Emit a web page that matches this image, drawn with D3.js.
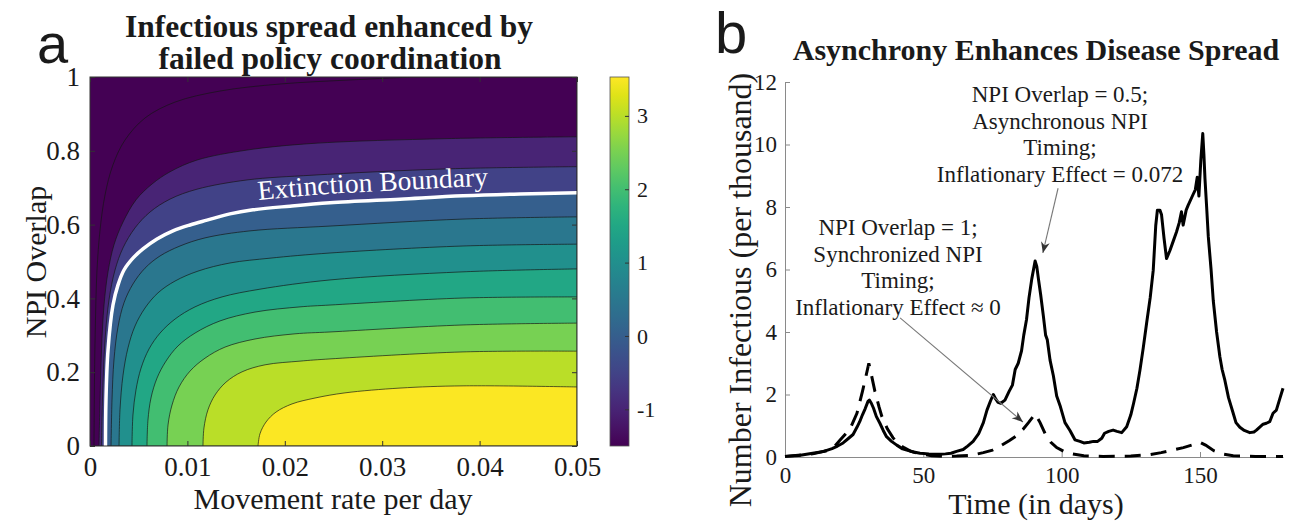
<!DOCTYPE html>
<html>
<head>
<meta charset="utf-8">
<script src="https://cdn.jsdelivr.net/npm/d3@7"></script>
<style>
  body { margin: 0; background: #fff; }
  svg text { font-family: "Liberation Serif", "Times New Roman", serif; fill: #1a1a1a; }
</style>
</head>
<body>
<svg id="chart" width="1289" height="525"></svg>
<script>
// ---- panel a: contour levels and their lines, [movement rate, NPI overlap]
const levels = [-1.5, -1, -0.5, 0, 0.5, 1, 1.5, 2, 2.5, 3, 3.5];
const colorRange = [-1.5, 3.53];
const colorbarTicks = [-1, 0, 1, 2, 3];
const rateTicks = [0, 0.01, 0.02, 0.03, 0.04, 0.05];
const overlapTicks = [0, 0.2, 0.4, 0.6, 0.8, 1];

const lineM15 = [[0.00041,0],[0.00046,0.179],[0.00056,0.341],[0.00072,0.477],[0.00103,0.585],[0.00154,0.68],[0.00236,0.762],[0.00359,0.829],[0.00565,0.889],[0.00873,0.932],[0.01335,0.962],[0.01951,0.981],[0.02669,0.992],[0.03316,1]];
const lineM10 = [[0.00092,0],[0.00103,0.125],[0.00118,0.26],[0.00144,0.382],[0.00185,0.472],[0.00246,0.545],[0.00339,0.607],[0.00472,0.667],[0.00637,0.71],[0.00821,0.743],[0.01099,0.775],[0.01612,0.802],[0.0229,0.82],[0.03665,0.833],[0.05,0.838]];
const lineM05 = [[0.00118,0],[0.00128,0.125],[0.00154,0.287],[0.00195,0.396],[0.00257,0.477],[0.00339,0.537],[0.00462,0.591],[0.00616,0.634],[0.00821,0.669],[0.01099,0.696],[0.01612,0.721],[0.0229,0.734],[0.03665,0.751],[0.05,0.757]];
const line00 = [[0.00159,0],[0.00164,0.125],[0.00185,0.26],[0.00236,0.382],[0.00287,0.436],[0.00349,0.477],[0.00441,0.509],[0.00544,0.534],[0.00688,0.561],[0.00852,0.583],[0.01027,0.599],[0.01201,0.612],[0.01437,0.629],[0.01674,0.64],[0.02053,0.65],[0.02464,0.659],[0.03183,0.669],[0.0383,0.678],[0.04415,0.683],[0.05,0.686]];
const line05 = [[0.00216,0],[0.00226,0.125],[0.00246,0.233],[0.00287,0.322],[0.00349,0.388],[0.00441,0.439],[0.00565,0.482],[0.00719,0.515],[0.00924,0.542],[0.01181,0.564],[0.01643,0.583],[0.02464,0.596],[0.0383,0.615],[0.05,0.621]];
const line10 = [[0.00298,0],[0.00308,0.098],[0.00339,0.192],[0.0039,0.266],[0.00462,0.325],[0.00565,0.374],[0.00698,0.415],[0.00873,0.447],[0.01109,0.474],[0.01437,0.496],[0.01848,0.509],[0.02464,0.523],[0.0383,0.542],[0.05,0.547]];
const line15 = [[0.00431,0],[0.00441,0.084],[0.00472,0.152],[0.00524,0.211],[0.00606,0.263],[0.00719,0.306],[0.00873,0.344],[0.01078,0.377],[0.01355,0.404],[0.01745,0.425],[0.02464,0.45],[0.0383,0.472],[0.05,0.48]];
const line20 = [[0.00585,0],[0.00595,0.07],[0.00626,0.13],[0.00688,0.184],[0.0078,0.23],[0.00903,0.271],[0.01078,0.306],[0.01335,0.339],[0.01694,0.363],[0.02156,0.377],[0.02464,0.382],[0.0383,0.401],[0.05,0.404]];
const line25 = [[0.00791,0],[0.00801,0.057],[0.00842,0.111],[0.00914,0.16],[0.01027,0.203],[0.01181,0.238],[0.01386,0.268],[0.01694,0.29],[0.02105,0.304],[0.02464,0.309],[0.0383,0.328],[0.05,0.333]];
const line30 = [[0.0116,0],[0.0117,0.049],[0.01211,0.098],[0.01283,0.138],[0.01396,0.173],[0.01561,0.201],[0.01797,0.22],[0.02156,0.23],[0.02464,0.236],[0.0383,0.255],[0.05,0.257]];
const line35 = [[0.01725,0],[0.01745,0.033],[0.01807,0.065],[0.0191,0.092],[0.02074,0.114],[0.0231,0.13],[0.02618,0.144],[0.03183,0.157],[0.0383,0.163],[0.05,0.16]];
const contourLines = [lineM15, lineM10, lineM05, line00, line05, line10, line15, line20, line25, line30, line35];

// ---- panel b: infectious per thousand over time
const solidDays = [0,5,10,14,17,19,21,23,24.6,26,27,28,29,30,30.5,31.2,32,33,34.3,35.5,36.7,38.5,40.4,42.5,44,46.5,48.8,52,56,58,60,62,64.4,66,68,70,71.7,73,74.3,75.3,76.2,77,78,79.5,81,82.2,83.2,84.3,85.5,86.3,87.3,88.2,89.2,90.4,91,91.6,92.4,93.4,94.2,94.8,95.8,97,98.2,99.4,101.2,103,104.8,106.6,108,110,111.5,113,114.5,115.5,117,118.6,120,121.7,123.5,125,126,127.2,128.3,129.5,130.7,132,133.1,134,134.6,135.5,136.1,137,137.9,139.1,140.3,141.5,142.5,143.3,143.9,145,145.7,147.5,148.3,149,149.6,150.3,151,151.4,151.8,152.4,153,154,154.8,156,157.2,158,159,160.3,162,163,164.4,166,168,169.5,170.4,171.5,172.8,174,175.2,176.4,177.6,178.8,180];
const solidValues = [0.02,0.05,0.12,0.18,0.27,0.35,0.45,0.6,0.72,0.95,1.13,1.35,1.55,1.78,1.82,1.72,1.56,1.3,1.08,0.85,0.65,0.5,0.38,0.26,0.22,0.16,0.12,0.1,0.09,0.1,0.12,0.18,0.24,0.35,0.5,0.75,1.1,1.5,1.8,2.0,1.85,1.75,1.72,1.82,2.1,2.3,2.8,3.0,3.4,3.9,4.4,5.1,5.7,6.27,6.1,5.7,5.2,4.5,3.9,3.75,3.1,2.6,1.95,1.65,1.1,0.85,0.55,0.5,0.45,0.47,0.5,0.5,0.6,0.76,0.82,0.86,0.82,0.78,0.97,1.35,1.72,2.2,2.78,3.5,4.28,5.1,5.98,7.4,7.9,7.9,7.75,7.0,6.35,6.6,6.9,7.2,7.5,7.85,7.42,7.9,8.05,8.4,8.55,8.95,8.35,9.5,10.35,9.7,8.9,8.0,7.05,6.0,5.0,4.0,3.2,2.8,2.45,1.9,1.4,1.1,0.95,0.85,0.78,0.8,0.86,0.95,1.05,1.08,1.13,1.4,1.5,1.85,2.2];
const dashedDays = [0,10,15,18,20,22,24,26,28,29.3,30.3,31.3,32.5,34,35,37,39,41,43,45.5,49,53,57,62,67,71.7,75,78,81,83.7,86,88,90.4,92.2,94,96,98.2,101,104,108,115,125,132,136,140,144,147,150,152,155,158,162,170,180];
const dashedValues = [0.02,0.1,0.2,0.35,0.55,0.75,1.0,1.4,2.1,2.6,3.0,2.6,2.1,1.6,1.3,0.9,0.62,0.42,0.3,0.18,0.1,0.04,0.02,0.03,0.05,0.14,0.22,0.36,0.52,0.68,0.88,1.1,1.38,1.1,0.75,0.48,0.3,0.17,0.1,0.04,0.02,0.03,0.08,0.14,0.22,0.3,0.38,0.47,0.38,0.2,0.1,0.04,0.02,0.02];
const dayTicks = [0, 50, 100, 150];
const countTicks = [0, 2, 4, 6, 8, 10, 12];

const annotationSync = ['NPI Overlap = 1;', 'Synchronized NPI', 'Timing;', 'Inflationary Effect \u2248 0'];
const annotationAsync = ['NPI Overlap = 0.5;', 'Asynchronous NPI', 'Timing;', 'Inflationary Effect = 0.072'];

const svg = d3.select('#chart');
const serif = '"Liberation Serif", "Times New Roman", serif';

// ================= panel a =================
const xA = d3.scaleLinear().domain([0, 0.05]).range([90, 577]);
const yA = d3.scaleLinear().domain([0, 1]).range([446, 77]);
const color = d3.scaleSequential(d3.interpolateViridis).domain(colorRange);

svg.append('defs').append('clipPath').attr('id', 'clipA')
  .append('rect').attr('x', 90).attr('y', 77).attr('width', 487).attr('height', 369);

const gA = svg.append('g');
const plotA = gA.append('g').attr('clip-path', 'url(#clipA)');

plotA.append('rect')
  .attr('x', 90).attr('y', 77).attr('width', 487).attr('height', 369)
  .attr('fill', color(colorRange[0]));

const contourLine = d3.line()
  .x(d => xA(d[0])).y(d => yA(d[1]))
  .curve(d3.curveCatmullRom.alpha(0.5));

function bandPath(pts) {
  const last = pts[pts.length - 1];
  let tail = '';
  if (last[1] >= 1) tail += `L${xA(0.05)},${yA(1)}`;
  tail += `L${xA(0.05)},${yA(0)}Z`;
  return contourLine(pts) + tail;
}

plotA.selectAll('path.band')
  .data(contourLines)
  .enter().append('path')
  .attr('class', 'band')
  .attr('d', bandPath)
  .attr('fill', (d, i) => color(levels[i]))
  .attr('stroke', '#151515')
  .attr('stroke-width', 0.8)
  .attr('stroke-opacity', 0.85);

// extinction boundary (level 0)
plotA.append('path')
  .attr('d', contourLine(line00))
  .attr('fill', 'none')
  .attr('stroke', '#fff')
  .attr('stroke-width', 3.5);

const labelPath = d3.line()
  .x(d => xA(d[0])).y(d => yA(d[1]) - 9)
  .curve(d3.curveCatmullRom.alpha(0.5));
svg.select('defs').append('path')
  .attr('id', 'boundaryPath')
  .attr('d', labelPath(line00.filter(d => d[0] >= 0.0125)));

gA.append('text')
  .attr('font-size', 27.5)
  .style('fill', '#fff')
  .append('textPath')
  .attr('href', '#boundaryPath')
  .attr('startOffset', 29)
  .text('Extinction Boundary');

// box and inward ticks
gA.append('rect')
  .attr('x', 90).attr('y', 77).attr('width', 487).attr('height', 369)
  .attr('fill', 'none').attr('stroke', '#333').attr('stroke-width', 1);

function styleAxis(g, size) {
  g.select('.domain').remove();
  g.selectAll('.tick line').attr('stroke', '#333');
  g.selectAll('.tick text').attr('font-family', serif).attr('font-size', size).style('fill', '#1a1a1a');
}

gA.append('g').attr('transform', 'translate(0,446)')
  .call(d3.axisBottom(xA).tickValues(rateTicks).tickFormat(d => String(d)).tickSize(-5).tickPadding(11))
  .call(g => styleAxis(g, 27));
gA.append('g').attr('transform', 'translate(0,77)')
  .call(d3.axisTop(xA).tickValues(rateTicks).tickFormat('').tickSize(-5))
  .call(g => styleAxis(g, 27));
gA.append('g').attr('transform', 'translate(90,0)')
  .call(d3.axisLeft(yA).tickValues(overlapTicks).tickFormat(d => String(d)).tickSize(-5).tickPadding(10))
  .call(g => styleAxis(g, 27));
gA.append('g').attr('transform', 'translate(577,0)')
  .call(d3.axisRight(yA).tickValues(overlapTicks).tickFormat('').tickSize(-5))
  .call(g => styleAxis(g, 27));

gA.append('text')
  .attr('x', 333).attr('y', 509)
  .attr('text-anchor', 'middle').attr('font-size', 30)
  .text('Movement rate per day');
gA.append('text')
  .attr('transform', 'translate(46,262) rotate(-90)')
  .attr('text-anchor', 'middle').attr('font-size', 30)
  .text('NPI Overlap');
gA.append('text')
  .attr('x', 329).attr('y', 37)
  .attr('text-anchor', 'middle').attr('font-size', 31.5).attr('font-weight', 'bold')
  .text('Infectious spread enhanced by');
gA.append('text')
  .attr('x', 330).attr('y', 69)
  .attr('text-anchor', 'middle').attr('font-size', 31.5).attr('font-weight', 'bold')
  .text('failed policy coordination');

// colorbar
const cbScale = d3.scaleLinear().domain(colorRange).range([446, 77]);
const grad = svg.select('defs').append('linearGradient')
  .attr('id', 'cbGrad').attr('x1', 0).attr('y1', 1).attr('x2', 0).attr('y2', 0);
d3.range(0, 1.0001, 0.05).forEach(t => {
  grad.append('stop').attr('offset', t)
    .attr('stop-color', color(colorRange[0] + t * (colorRange[1] - colorRange[0])));
});
gA.append('rect')
  .attr('x', 610).attr('y', 77).attr('width', 19).attr('height', 369)
  .attr('fill', 'url(#cbGrad)').attr('stroke', '#555').attr('stroke-width', 0.8);
gA.append('g').attr('transform', 'translate(629,0)')
  .call(d3.axisRight(cbScale).tickValues(colorbarTicks).tickFormat(d => String(d)).tickSize(-4).tickPadding(8))
  .call(g => styleAxis(g, 22));

// ================= panel b =================
const xB = d3.scaleLinear().domain([0, 180]).range([785, 1283]);
const yB = d3.scaleLinear().domain([0, 12]).range([457, 82]);
const gB = svg.append('g');

function styleAxisB(g) {
  g.select('.domain').attr('stroke', '#8a8a8a').attr('stroke-width', 1);
  g.selectAll('.tick line').attr('stroke', '#8a8a8a');
  g.selectAll('.tick text').attr('font-family', serif).attr('font-size', 23).style('fill', '#1a1a1a');
}

gB.append('g').attr('transform', 'translate(0,457)')
  .call(d3.axisBottom(xB).tickValues(dayTicks).tickSize(-5).tickSizeOuter(0).tickPadding(10))
  .call(styleAxisB);
gB.append('g').attr('transform', 'translate(785,0)')
  .call(d3.axisLeft(yB).tickValues(countTicks).tickSize(-5).tickSizeOuter(0).tickPadding(8))
  .call(styleAxisB);

const seriesLine = d3.line().x(d => xB(d[0])).y(d => yB(d[1]));

gB.append('path')
  .attr('d', seriesLine(d3.zip(dashedDays, dashedValues)))
  .attr('fill', 'none').attr('stroke', '#000').attr('stroke-width', 3)
  .attr('stroke-dasharray', '16,10');
gB.append('path')
  .attr('d', seriesLine(d3.zip(solidDays, solidValues)))
  .attr('fill', 'none').attr('stroke', '#000').attr('stroke-width', 3)
  .attr('stroke-linejoin', 'round');

// annotations with arrows
svg.select('defs').append('marker')
  .attr('id', 'arrowHead').attr('viewBox', '0 0 10 10')
  .attr('refX', 10).attr('refY', 5)
  .attr('markerWidth', 11).attr('markerHeight', 11)
  .attr('markerUnits', 'userSpaceOnUse')
  .attr('orient', 'auto')
  .append('path').attr('d', 'M0,1 L10,5 L0,9 L3,5 Z').attr('fill', '#333');

function arrow(from, to) {
  gB.append('line')
    .attr('x1', xB(from[0])).attr('y1', yB(from[1]))
    .attr('x2', xB(to[0])).attr('y2', yB(to[1]))
    .attr('stroke', '#777').attr('stroke-width', 1.1)
    .attr('marker-end', 'url(#arrowHead)');
}
arrow([98.7, 8.6], [93.2, 6.53]);
arrow([41.6, 4.45], [86.0, 1.12]);

function annotation(lines, cx, y0) {
  gB.append('text')
    .attr('text-anchor', 'middle').attr('font-size', 23)
    .selectAll('tspan').data(lines).enter().append('tspan')
    .attr('x', cx).attr('y', (d, i) => y0 + i * 26.5)
    .text(d => d);
}
annotation(annotationAsync, 1060, 102);
annotation(annotationSync, 898, 235);

gB.append('text')
  .attr('x', 1036).attr('y', 514)
  .attr('text-anchor', 'middle').attr('font-size', 30)
  .text('Time (in days)');
gB.append('text')
  .attr('transform', 'translate(751,290) rotate(-90)')
  .attr('text-anchor', 'middle').attr('font-size', 32)
  .text('Number Infectious (per thousand)');
gB.append('text')
  .attr('x', 1036).attr('y', 60)
  .attr('text-anchor', 'middle').attr('font-size', 30).attr('font-weight', 'bold')
  .text('Asynchrony Enhances Disease Spread');

// panel letters
svg.append('text').attr('x', 37).attr('y', 63)
  .style('font-family', '"Liberation Sans", Arial, sans-serif').attr('font-size', 56)
  .text('a');
svg.append('text').attr('x', 715).attr('y', 53)
  .style('font-family', '"Liberation Sans", Arial, sans-serif').attr('font-size', 58)
  .text('b');
</script>
</body>
</html>
